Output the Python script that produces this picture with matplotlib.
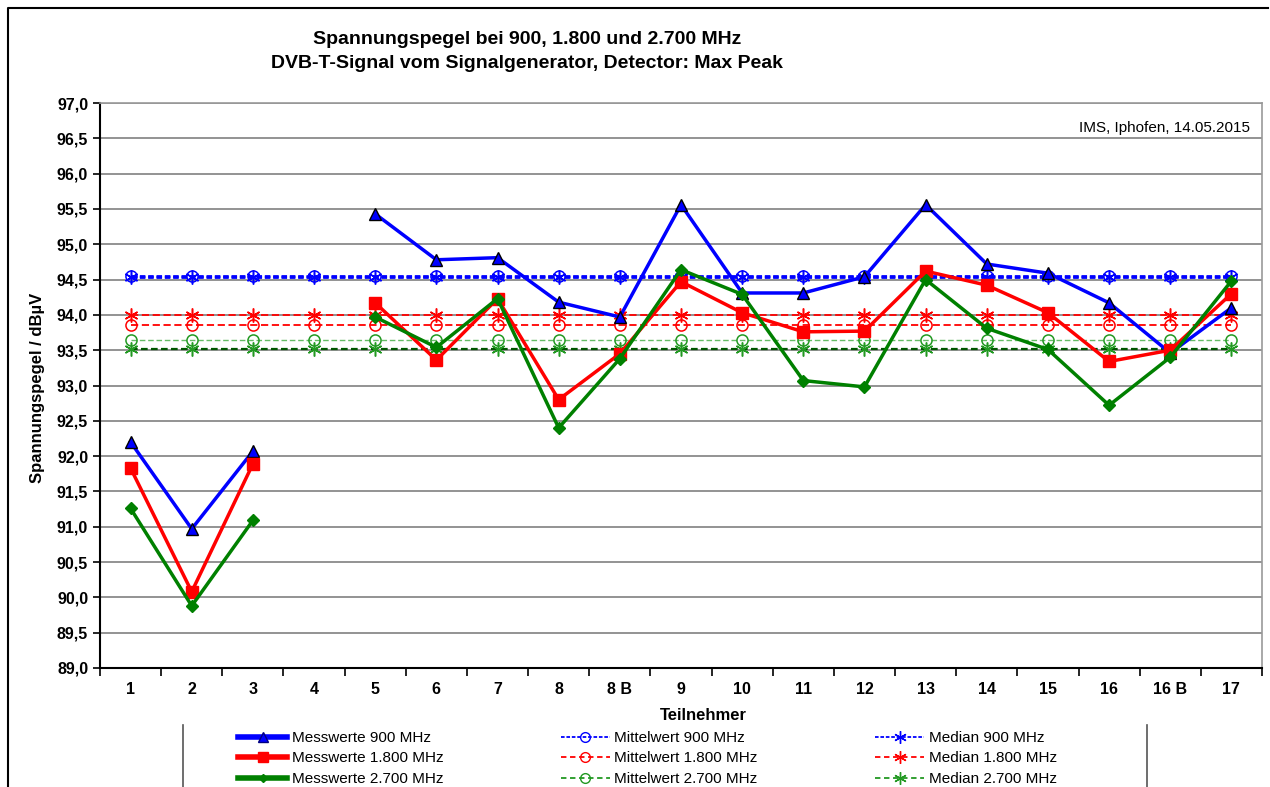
import numpy as np
import matplotlib
matplotlib.use("Agg")
import matplotlib.pyplot as plt
from matplotlib.lines import Line2D
from matplotlib.ticker import FuncFormatter

plt.rcParams['font.family'] = ['Liberation Sans', 'DejaVu Sans']

# Teilnehmer (x categories)
teilnehmer = ['1', '2', '3', '4', '5', '6', '7', '8', '8 B', '9', '10',
              '11', '12', '13', '14', '15', '16', '16 B', '17']

# Messwerte in dBuV, nan = kein Wert
mess_900 = [92.20, 90.97, 92.07, np.nan, 95.43, 94.78, 94.81, 94.18, 93.97, 95.56,
            94.31, 94.31, 94.54, 95.56, 94.72, 94.59, 94.17, 93.46, 94.10]
mess_1800 = [91.83, 90.08, 91.89, np.nan, 94.17, 93.36, 94.23, 92.80, 93.45, 94.47,
             94.03, 93.76, 93.77, 94.62, 94.42, 94.03, 93.34, 93.50, 94.30]
mess_2700 = [91.26, 89.88, 91.09, np.nan, 93.97, 93.54, 94.23, 92.40, 93.38, 94.64,
             94.29, 93.07, 92.98, 94.50, 93.81, 93.51, 92.72, 93.40, 94.48]

# Mittelwert / Median (horizontale Linien)
mittel_900, mittel_1800, mittel_2700 = 94.55, 93.86, 93.65
median_900, median_1800, median_2700 = 94.53, 94.00, 93.51

W, H = 1270, 787
fig = plt.figure(figsize=(W / 100, H / 100), dpi=100)
ax = fig.add_axes([100 / W, 1 - 668 / H, 1162 / W, 565 / H])

x = np.arange(len(teilnehmer))
star = (6, 2, 0)

# horizontal reference lines
ax.plot(x, np.full(len(x), mittel_900), color='#0000ff', ls=(0, (2, 1)), lw=2,
        marker='o', mfc='none', ms=8, mew=1.1, zorder=3)
ax.plot(x, np.full(len(x), median_900), color='#0000ff', ls=(0, (2, 1)), lw=2,
        marker=star, ms=10, mew=1.1, zorder=3)
ax.plot(x, np.full(len(x), mittel_1800), color='#ff0000', ls=(0, (4, 2)), lw=1.3,
        marker='o', mfc='none', ms=8, mew=1.1, zorder=3)
ax.plot(x, np.full(len(x), median_1800), color='#ff0000', ls=(0, (4, 2)), lw=1.3,
        marker=star, ms=10, mew=1.1, zorder=3)
ax.plot(x, np.full(len(x), mittel_2700), color='#66bb66', ls=(0, (4, 2)), lw=1,
        marker='o', mfc='none', mec='#229922', ms=8, mew=1.1, zorder=3)
ax.plot(x, np.full(len(x), median_2700), color='#005500', ls=(0, (3, 1.5)), lw=1.6,
        marker=star, mec='#229922', ms=10, mew=1.1, zorder=3)

# measured values
ax.plot(x, mess_900, color='#0000ff', lw=2.5, marker='^', ms=9, mfc='#0000ff',
        mec='black', mew=1, zorder=5)
ax.plot(x, mess_1800, color='#ff0000', lw=2.5, marker='s', ms=9, mfc='#ff0000',
        mec='#ff0000', zorder=5)
ax.plot(x, mess_2700, color='#008000', lw=2.5, marker='D', ms=6, mfc='#008000',
        mec='#008000', zorder=5)

ax.set_xlim(-0.5, len(x) - 0.5)
ax.set_ylim(89, 97)
ax.set_yticks(np.arange(89, 97.01, 0.5))
ax.yaxis.set_major_formatter(FuncFormatter(lambda v, p: f"{v:.1f}".replace('.', ',')))
ax.grid(axis='y', color='#808080', lw=1.2)
ax.set_axisbelow(True)

# ticks between categories, labels in the middle
ax.set_xticks(np.arange(-0.5, len(x), 1.0))
ax.set_xticklabels([])
ax.set_xticks(x, minor=True)
ax.set_xticklabels(teilnehmer, minor=True)
ax.tick_params(axis='x', which='major', length=6, width=1.2, direction='out')
ax.tick_params(axis='x', which='minor', length=0, pad=10, labelsize=11.5)
ax.tick_params(axis='y', length=5, width=1.2, labelsize=11.5)
for lab in ax.get_xticklabels(minor=True) + ax.get_yticklabels():
    lab.set_fontweight('bold')

for s in ['left', 'bottom']:
    ax.spines[s].set_color('black')
    ax.spines[s].set_linewidth(1.5)
for s in ['top', 'right']:
    ax.spines[s].set_color('#999999')
    ax.spines[s].set_linewidth(1.2)

ax.text(0.99, 0.955, 'IMS, Iphofen, 14.05.2015', transform=ax.transAxes,
        ha='right', va='center', fontsize=11)

fig.text(527 / W, 1 - 40 / H, 'Spannungspegel bei 900, 1.800 und 2.700 MHz',
         ha='center', va='center', fontsize=14, fontweight='bold')
fig.text(527 / W, 1 - 64 / H, 'DVB-T-Signal vom Signalgenerator, Detector: Max Peak',
         ha='center', va='center', fontsize=14, fontweight='bold')
fig.text(38 / W, 1 - 388 / H, 'Spannungspegel / dBµV', rotation=90,
         ha='center', va='center', fontsize=12, fontweight='bold')
fig.text(703 / W, 1 - 715 / H, 'Teilnehmer', ha='center', va='center',
         fontsize=12, fontweight='bold')

# legend (column order like the original)
handles = [
    Line2D([], [], color='#0000ff', lw=4, marker='^', ms=7, mfc='#0000ff', mec='#000080'),
    Line2D([], [], color='#ff0000', lw=4, marker='s', ms=7, mec='#ff0000'),
    Line2D([], [], color='#008000', lw=4, marker='D', ms=4, mec='#008000'),
    Line2D([], [], color='#0000ff', lw=1.3, ls=(0, (2, 1)), marker='o', mfc='none', ms=7),
    Line2D([], [], color='#ff0000', lw=1.3, ls=(0, (3, 2)), marker='o', mfc='none', ms=7),
    Line2D([], [], color='#229922', lw=1.3, ls=(0, (3, 2)), marker='o', mfc='none', ms=7),
    Line2D([], [], color='#0000ff', lw=1.3, ls=(0, (2, 1)), marker=star, ms=9),
    Line2D([], [], color='#ff0000', lw=1.3, ls=(0, (3, 2)), marker=star, ms=9),
    Line2D([], [], color='#229922', lw=1.3, ls=(0, (3, 2)), marker=star, ms=9),
]
labels = ['Messwerte 900 MHz', 'Messwerte 1.800 MHz', 'Messwerte 2.700 MHz',
          'Mittelwert 900 MHz', 'Mittelwert 1.800 MHz', 'Mittelwert 2.700 MHz',
          'Median 900 MHz', 'Median 1.800 MHz', 'Median 2.700 MHz']
fig.legend(handles, labels, ncol=3, loc='upper left',
           bbox_to_anchor=(235 / W, 1 - 728 / H), frameon=False,
           fontsize=11, handlelength=3.2, handletextpad=0.3,
           columnspacing=7.7, labelspacing=0.42, borderpad=0.2, borderaxespad=0)

# legend box sides and outer border
fig.add_artist(Line2D([183 / W, 183 / W], [0, 1 - 725 / H], color='#555555', lw=1.2))
fig.add_artist(Line2D([1147 / W, 1147 / W], [0, 1 - 725 / H], color='#555555', lw=1.2))
fig.add_artist(Line2D([8 / W, 8 / W, 1 - 2 / W], [0, 1 - 8 / H, 1 - 8 / H],
                      color='black', lw=1.5))

fig.savefig('out.png', dpi=100)
